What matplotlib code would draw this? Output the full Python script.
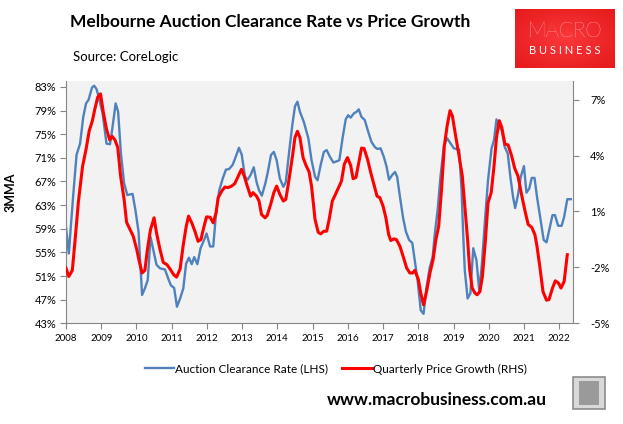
import numpy as np
import matplotlib.pyplot as plt
from matplotlib.patches import Rectangle

plt.rcParams['font.family'] = ['Lato', 'DejaVu Sans']

# Auction clearance rate, 3 month average (LHS, %)
acr_year = [2008.00, 2008.08, 2008.21, 2008.30, 2008.40, 2008.49, 2008.57, 2008.64, 2008.74, 2008.80,
            2008.87, 2008.94, 2009.04, 2009.15, 2009.25, 2009.31, 2009.41, 2009.48, 2009.56, 2009.65,
            2009.74, 2009.89, 2009.97, 2010.06, 2010.16, 2010.24, 2010.32, 2010.40, 2010.48, 2010.57,
            2010.67, 2010.81, 2010.90, 2010.98, 2011.07, 2011.15, 2011.24, 2011.33, 2011.41, 2011.49,
            2011.57, 2011.64, 2011.73, 2011.82, 2011.92, 2011.99, 2012.09, 2012.18, 2012.26, 2012.35,
            2012.45, 2012.54, 2012.63, 2012.73, 2012.82, 2012.91, 2012.99, 2013.08, 2013.16, 2013.24,
            2013.33, 2013.41, 2013.48, 2013.56, 2013.66, 2013.73, 2013.82, 2013.90, 2013.98, 2014.07,
            2014.17, 2014.24, 2014.34, 2014.43, 2014.50, 2014.57, 2014.64, 2014.75, 2014.88, 2014.97,
            2015.07, 2015.14, 2015.23, 2015.32, 2015.40, 2015.49, 2015.59, 2015.68, 2015.76, 2015.85,
            2015.94, 2016.01, 2016.08, 2016.17, 2016.25, 2016.31, 2016.39, 2016.48, 2016.58, 2016.67,
            2016.77, 2016.84, 2016.93, 2017.02, 2017.10, 2017.17, 2017.26, 2017.34, 2017.40, 2017.48,
            2017.57, 2017.65, 2017.74, 2017.83, 2017.90, 2017.98, 2018.07, 2018.15, 2018.23, 2018.32,
            2018.41, 2018.47, 2018.55, 2018.63, 2018.73, 2018.82, 2018.92, 2019.01, 2019.09, 2019.16,
            2019.23, 2019.27, 2019.32, 2019.40, 2019.48, 2019.56, 2019.65, 2019.73, 2019.80, 2019.90,
            2019.98, 2020.08, 2020.15, 2020.22, 2020.30, 2020.37, 2020.45, 2020.54, 2020.62, 2020.69,
            2020.75, 2020.83, 2020.91, 2021.00, 2021.07, 2021.15, 2021.22, 2021.30, 2021.37, 2021.47,
            2021.56, 2021.64, 2021.73, 2021.81, 2021.88, 2021.97, 2022.07, 2022.14, 2022.23, 2022.33]
acr = [59.3, 54.8, 65.0, 71.5, 73.4, 77.9, 80.2, 80.8, 82.9, 83.2,
       82.6, 81.0, 78.5, 73.4, 73.3, 75.7, 80.2, 78.8, 71.7, 66.7,
       64.7, 64.9, 62.2, 58.5, 47.8, 48.9, 50.3, 57.6, 55.4, 52.9,
       52.3, 52.1, 50.6, 49.4, 49.0, 45.8, 47.2, 48.9, 53.1, 54.1,
       53.0, 54.2, 53.0, 55.7, 57.1, 58.2, 56.0, 56.0, 61.6, 65.5,
       67.5, 69.0, 69.1, 69.8, 71.2, 72.7, 71.5, 67.8, 67.3, 68.1,
       69.4, 66.9, 65.5, 64.6, 66.7, 68.6, 71.5, 72.0, 70.6, 67.5,
       66.1, 66.9, 72.3, 76.8, 79.7, 80.5, 78.8, 77.1, 74.3, 70.6,
       67.8, 67.2, 69.8, 72.0, 72.3, 71.2, 70.2, 70.4, 70.6, 74.3,
       77.5, 78.2, 77.8, 78.5, 78.8, 79.2, 77.9, 77.4, 75.4, 73.7,
       72.8, 72.5, 72.6, 71.2, 69.5, 67.3, 68.1, 68.6, 67.8, 64.4,
       60.8, 58.5, 57.1, 56.6, 53.7, 50.3, 45.2, 44.6, 48.9, 52.3,
       54.3, 58.2, 62.2, 67.8, 73.1, 74.3, 73.4, 72.6, 72.5, 72.4,
       65.5, 58.8, 52.0, 47.2, 48.1, 55.7, 53.7, 48.6, 52.6, 61.0,
       67.2, 72.6, 74.0, 77.5, 76.2, 75.7, 72.9, 71.7, 67.5, 64.4,
       62.5, 64.7, 67.8, 69.6, 65.1, 65.8, 67.6, 67.6, 64.4, 60.5,
       57.1, 56.7, 59.1, 61.3, 61.3, 59.5, 59.5, 61.0, 64.0, 64.0]

# Quarterly price growth (RHS, %)
qpg_year = [2008.00, 2008.08, 2008.18, 2008.26, 2008.35, 2008.47, 2008.57, 2008.66, 2008.75, 2008.82,
            2008.90, 2008.98, 2009.06, 2009.15, 2009.24, 2009.31, 2009.39, 2009.47, 2009.55, 2009.65,
            2009.72, 2009.82, 2009.91, 2010.01, 2010.08, 2010.16, 2010.24, 2010.31, 2010.40, 2010.50,
            2010.57, 2010.67, 2010.76, 2010.87, 2010.97, 2011.06, 2011.14, 2011.24, 2011.33, 2011.41,
            2011.48, 2011.57, 2011.66, 2011.75, 2011.83, 2011.92, 2011.99, 2012.09, 2012.18, 2012.26,
            2012.32, 2012.42, 2012.51, 2012.60, 2012.70, 2012.79, 2012.89, 2012.98, 2013.06, 2013.14,
            2013.24, 2013.31, 2013.41, 2013.48, 2013.55, 2013.65, 2013.71, 2013.81, 2013.90, 2013.98,
            2014.07, 2014.17, 2014.24, 2014.34, 2014.43, 2014.50, 2014.57, 2014.64, 2014.73, 2014.82,
            2014.90, 2014.97, 2015.07, 2015.16, 2015.23, 2015.32, 2015.40, 2015.47, 2015.56, 2015.65,
            2015.75, 2015.82, 2015.90, 2015.99, 2016.08, 2016.15, 2016.23, 2016.31, 2016.39, 2016.46,
            2016.56, 2016.65, 2016.74, 2016.83, 2016.91, 2017.00, 2017.08, 2017.16, 2017.22, 2017.31,
            2017.38, 2017.48, 2017.57, 2017.67, 2017.76, 2017.84, 2017.90, 2018.00, 2018.07, 2018.15,
            2018.24, 2018.33, 2018.42, 2018.50, 2018.58, 2018.66, 2018.74, 2018.82, 2018.90, 2018.97,
            2019.06, 2019.15, 2019.25, 2019.32, 2019.40, 2019.46, 2019.53, 2019.61, 2019.67, 2019.75,
            2019.82, 2019.90, 2019.98, 2020.07, 2020.15, 2020.22, 2020.30, 2020.37, 2020.46, 2020.55,
            2020.65, 2020.74, 2020.83, 2020.93, 2021.03, 2021.12, 2021.22, 2021.31, 2021.37, 2021.45,
            2021.54, 2021.64, 2021.71, 2021.81, 2021.89, 2021.98, 2022.05, 2022.14, 2022.23]
qpg = [-2.03, -2.49, -2.16, -0.51, 1.47, 3.41, 4.34, 5.33, 5.87, 6.50,
       7.13, 7.31, 6.32, 5.42, 4.84, 5.03, 4.84, 4.43, 2.90, 1.65,
       0.42, 0.03, -0.33, -1.05, -1.68, -2.30, -2.16, -1.05, 0.03, 0.66,
       -0.15, -1.05, -1.73, -1.86, -2.13, -2.40, -2.52, -2.08, -0.78, 0.17,
       0.75, 0.39, -0.06, -0.60, -0.51, 0.21, 0.71, 0.69, 0.39, 0.93,
       1.74, 2.09, 2.31, 2.28, 2.36, 2.49, 2.90, 3.26, 2.90, 2.40,
       1.82, 2.01, 1.82, 1.56, 0.84, 0.66, 0.78, 1.38, 2.01, 2.36,
       1.92, 1.56, 1.65, 2.82, 3.98, 4.97, 5.30, 4.97, 3.89, 3.44,
       3.13, 2.36, 0.57, -0.12, -0.20, -0.06, -0.06, 0.57, 1.56, 1.92,
       2.33, 2.63, 3.53, 3.89, 3.48, 2.76, 2.82, 3.62, 4.40, 4.38,
       3.80, 3.09, 2.46, 1.82, 1.74, 1.29, 0.66, -0.24, -0.56, -0.47,
       -0.51, -0.87, -1.41, -2.03, -2.30, -2.30, -2.16, -2.63, -3.38, -4.01,
       -3.25, -2.31, -1.59, -0.51, 0.21, 2.19, 4.52, 5.60, 6.41, 6.11,
       5.06, 4.07, 2.90, 1.29, -0.51, -2.13, -3.11, -3.38, -3.47, -3.30,
       -2.49, -0.69, 1.47, 2.01, 3.44, 4.97, 5.87, 5.51, 4.61, 4.57,
       3.98, 3.30, 2.90, 1.92, 1.02, 0.30, 0.15, -0.24, -0.87, -1.95,
       -3.30, -3.76, -3.73, -3.11, -2.72, -2.84, -3.11, -2.76, -1.32]

years = list(range(2008, 2023))
left_ticks = list(range(43, 84, 4))
right_ticks = [-5, -2, 1, 4, 7]

blue = '#4F81BD'
red = '#FF0000'
grey = '#868686'

fig = plt.figure(figsize=(6.23, 4.24), dpi=100)
ax = fig.add_axes([0.1059, 0.2375, 0.8143, 0.5715])
ax.set_facecolor('#F2F2F2')
ax.plot(acr_year, acr, color=blue, lw=1.7, label='Auction Clearance Rate (LHS)')
ax.set_xlim(2008, 2022.40)
ax.set_ylim(43, 84)
ax.set_yticks(left_ticks)
ax.set_yticklabels([f'{v}%' for v in left_ticks])
ax.set_xticks(years)
ax.set_xticklabels([str(y) for y in years], fontsize=7)
ax.tick_params(axis='y', labelsize=8, length=4, color=grey, pad=3)
ax.tick_params(axis='x', length=4, color=grey, pad=4)
for s in ['top', 'right']:
    ax.spines[s].set_visible(False)
for s in ['left', 'bottom']:
    ax.spines[s].set_color(grey)

ax2 = ax.twinx()
ax2.plot(qpg_year, qpg, color=red, lw=2.2, label='Quarterly Price Growth (RHS)')
ax2.set_ylim(-5, 8)
ax2.set_yticks(right_ticks)
ax2.set_yticklabels([f'{v}%' for v in right_ticks])
ax2.tick_params(axis='y', labelsize=8, length=4, color=grey, pad=8)
for s in ['top', 'left', 'bottom']:
    ax2.spines[s].set_visible(False)
ax2.spines['right'].set_color(grey)

fig.text(11 / 623, 1 - 192 / 424, '3MMA', rotation=90, ha='center', va='center',
         fontsize=9, fontweight='bold')

h1, l1 = ax.get_legend_handles_labels()
h2, l2 = ax2.get_legend_handles_labels()
fig.legend(h1 + h2, l1 + l2, loc='center', bbox_to_anchor=(0.539, 1 - 369 / 424), ncol=2,
           frameon=False, fontsize=8.5, handlelength=2.5, handletextpad=0.1, columnspacing=1.2)

fig.text(70 / 623, 1 - 22 / 424, 'Melbourne Auction Clearance Rate vs Price Growth',
         fontsize=12.5, fontweight='bold', va='center')
fig.text(73 / 623, 1 - 57 / 424, 'Source: CoreLogic', fontsize=9.5, va='center')
fig.text(437 / 623, 1 - 400 / 424, 'www.macrobusiness.com.au', fontsize=12.5,
         fontweight='bold', ha='center', va='center')

# logo
lax = fig.add_axes([515 / 623, 1 - 68 / 424, 100 / 623, 59 / 424])
gx, gy = np.meshgrid(np.linspace(-1, 1, 100), np.linspace(-1, 1, 60))
rr = np.clip(np.sqrt(gx ** 2 + gy ** 2) / 1.4, 0, 1)
img = np.zeros((60, 100, 3))
img[..., 0] = 0.98 - 0.08 * rr
img[..., 1] = 0.22 - 0.12 * rr
img[..., 2] = 0.23 - 0.12 * rr
lax.imshow(img, extent=[0, 1, 0, 1], aspect='auto')
lax.text(0.5, 0.63, 'MACRO', color='white', fontsize=15, fontweight='light',
         ha='center', va='center')
lax.text(0.5, 0.3, 'B U S I N E S S', color='white', fontsize=8,
         ha='center', va='center')
lax.set_axis_off()

# small wolf badge
wax = fig.add_axes([572 / 623, 1 - 410 / 424, 34 / 623, 34 / 424])
wax.set_xlim(0, 1)
wax.set_ylim(0, 1)
wax.add_patch(Rectangle((0.02, 0.02), 0.96, 0.96, facecolor='#D9D9D9', edgecolor='#8C8C8C', lw=1.2))
wax.add_patch(Rectangle((0.2, 0.15), 0.6, 0.7, facecolor='#9A9A9A', edgecolor='none'))
wax.set_axis_off()

fig.savefig('out.png', dpi=100)
